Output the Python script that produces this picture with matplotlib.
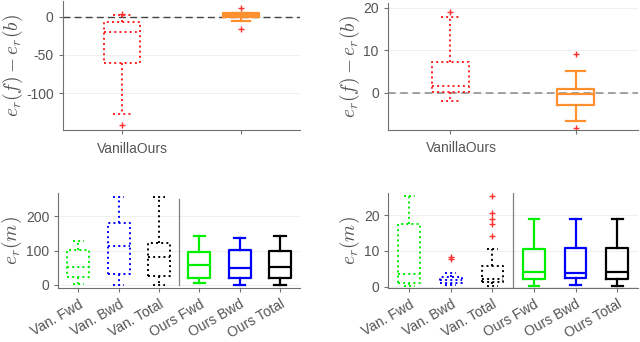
import numpy as np
import matplotlib
matplotlib.use("Agg")
import matplotlib.pyplot as plt

plt.rcParams['font.family'] = ['Liberation Sans', 'DejaVu Sans']
plt.rcParams['mathtext.fontset'] = 'cm'
plt.rcParams['axes.unicode_minus'] = False

# ---- data (box stats) ----
# top row: e_r(f) - e_r(b), Vanilla / Ours
top_labels = ["Vanilla", "Ours"]
tl_whislo = [-127, -5.5]
tl_q1 = [-60, -0.8]
tl_med = [-20.5, 1.8]
tl_q3 = [-7.4, 5.0]
tl_whishi = [2.5, 5.0]
tl_fliers = [[-141, 4], [12, -16]]

tr_whislo = [-1.9, -6.7]
tr_q1 = [0.2, -2.9]
tr_med = [1.5, -0.4]
tr_q3 = [7.3, 0.8]
tr_whishi = [17.9, 5.0]
tr_fliers = [[19.1], [9.1, -8.3]]

# bottom row: e_r(m)
bot_labels = ["Van. Fwd", "Van. Bwd", "Van. Total", "Ours Fwd", "Ours Bwd", "Ours Total"]
bl_whislo = [4, 0, 0, 5, 0, 0]
bl_q1 = [23, 31, 26, 21, 19.5, 21]
bl_med = [52, 114, 80, 57, 50, 52]
bl_q3 = [101, 180, 123, 97, 101, 99]
bl_whishi = [128, 257, 257, 141, 137, 141]
bl_fliers = [[], [], [], [], [], []]

br_whislo = [0.1, 0.5, 0.2, 0.2, 0.4, 0.2]
br_q1 = [1.1, 1.0, 1.3, 2.1, 2.4, 2.1]
br_med = [3.5, 1.7, 2.1, 4.2, 3.9, 4.1]
br_q3 = [17.6, 2.8, 5.8, 10.4, 10.9, 10.7]
br_whishi = [25.4, 3.9, 10.5, 19.0, 19.0, 19.0]
br_fliers = [[], [8.3, 7.8], [25.4, 20.6, 19.0, 17.5, 14.0], [], [], []]

top_colors = ['#ff1f1f', '#ff9030']
top_styles = [':', '-']
bot_colors = ['#00ee00', '#0000ff', '#000000', '#00ee00', '#0000ff', '#000000']
bot_styles = [':', ':', ':', '-', '-', '-']

TXT = '#555555'
SPINE = '#707070'


def make_stats(lo, q1, med, q3, hi, fl):
    return [dict(whislo=a, q1=b, med=c, q3=d, whishi=e, fliers=np.array(f))
            for a, b, c, d, e, f in zip(lo, q1, med, q3, hi, fl)]


def draw(ax, stats, colors, styles, width):
    for i, (s, c, ls) in enumerate(zip(stats, colors, styles)):
        lw = 1.4 if ls == ':' else 1.6
        props = dict(color=c, linestyle=ls, linewidth=lw)
        ax.bxp([s], positions=[i + 1], widths=width, showfliers=True,
               boxprops=props, medianprops=props, whiskerprops=props,
               capprops=props,
               flierprops=dict(marker='+', markeredgecolor='#ff3030',
                               markersize=5, markeredgewidth=1.0,
                               linestyle='none'))


def style(ax):
    for sp in ['top', 'right']:
        ax.spines[sp].set_visible(False)
    for sp in ['left', 'bottom']:
        ax.spines[sp].set_color(SPINE)
    ax.tick_params(colors=SPINE, labelcolor=TXT, labelsize=10, length=3)
    ax.yaxis.grid(True, color='#f0f0f0', linewidth=0.8)
    ax.set_axisbelow(True)


fig = plt.figure(figsize=(6.4, 3.42), dpi=100)

# top-left
ax1 = fig.add_axes([0.098, 0.620, 0.371, 0.378])
draw(ax1, make_stats(tl_whislo, tl_q1, tl_med, tl_q3, tl_whishi, tl_fliers),
     top_colors, top_styles, 0.3)
ax1.axhline(0, color='#444444', linestyle='--', linewidth=1.0, dashes=(5, 3), zorder=1.5)
ax1.set_xlim(0.5, 2.5)
ax1.set_ylim(-148, 21)
ax1.set_yticks([0, -50, -100])
ax1.set_xticks([1, 2])
ax1.set_xticklabels(["", ""])
ax1.text(1.09, -0.09, top_labels[0] + top_labels[1], transform=ax1.get_xaxis_transform(),
         ha='center', va='top', color=TXT, fontsize=10)
ax1.set_ylabel(r'$e_r(f) - e_r(b)$', fontsize=14, color=TXT, labelpad=1)
style(ax1)

# top-right
ax2 = fig.add_axes([0.606, 0.620, 0.391, 0.372])
draw(ax2, make_stats(tr_whislo, tr_q1, tr_med, tr_q3, tr_whishi, tr_fliers),
     top_colors, top_styles, 0.3)
ax2.axhline(0, color='#888888', linestyle='--', linewidth=1.1, dashes=(5, 3), zorder=1.5)
ax2.set_xlim(0.5, 2.5)
ax2.set_ylim(-8.8, 21.2)
ax2.set_yticks([0, 10, 20])
ax2.set_xticks([1, 2])
ax2.set_xticklabels(["", ""])
ax2.text(1.09, -0.09, top_labels[0] + top_labels[1], transform=ax2.get_xaxis_transform(),
         ha='center', va='top', color=TXT, fontsize=10)
ax2.set_ylabel(r'$e_r(f) - e_r(b)$', fontsize=14, color=TXT, labelpad=1)
style(ax2)

# bottom-left
ax3 = fig.add_axes([0.091, 0.157, 0.378, 0.280])
draw(ax3, make_stats(bl_whislo, bl_q1, bl_med, bl_q3, bl_whishi, bl_fliers),
     bot_colors, bot_styles, 0.55)
ax3.plot([3.5, 3.5], [0, 250], color='#808080', linewidth=0.9)
ax3.set_xlim(0.5, 6.5)
ax3.set_ylim(-10, 269)
ax3.set_yticks([0, 100, 200])
ax3.set_xticks(range(1, 7))
ax3.set_xticklabels(bot_labels, rotation=30, ha='right', rotation_mode='anchor')
ax3.set_ylabel(r'$e_r(m)$', fontsize=14, color=TXT, labelpad=1)
style(ax3)

# bottom-right
ax4 = fig.add_axes([0.607, 0.157, 0.390, 0.280])
draw(ax4, make_stats(br_whislo, br_q1, br_med, br_q3, br_whishi, br_fliers),
     bot_colors, bot_styles, 0.52)
ax4.axvline(3.5, color='#808080', linewidth=0.9)
ax4.set_xlim(0.5, 6.5)
ax4.set_ylim(-0.5, 26.3)
ax4.set_yticks([0, 10, 20])
ax4.set_xticks(range(1, 7))
ax4.set_xticklabels(bot_labels, rotation=30, ha='right', rotation_mode='anchor')
ax4.set_ylabel(r'$e_r(m)$', fontsize=14, color=TXT, labelpad=1)
style(ax4)

fig.savefig('out.png', dpi=100)
